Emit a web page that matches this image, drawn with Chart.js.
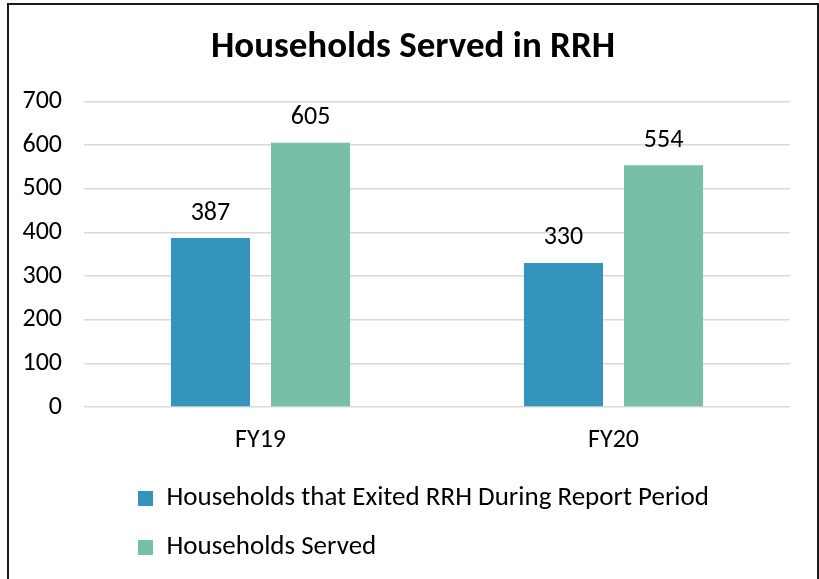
<!DOCTYPE html>
<html>
<head>
<meta charset="utf-8">
<title>Households Served in RRH</title>
<script src="https://cdn.jsdelivr.net/npm/chart.js@4.4.1/dist/chart.umd.min.js"></script>
<style>
    html, body { margin: 0; padding: 0; background: #fff; overflow: hidden; }
    #wrap { position: relative; width: 819px; height: 579px; }
    #chart { position: absolute; left: 0; top: 0; }
    #frame {
        position: absolute; left: 7px; top: 3px;
        width: 808px; height: 640px;
        border: 2px solid #1a1a1a;
        pointer-events: none;
    }
</style>
</head>
<body>
<div id="wrap">
    <canvas id="chart" width="819" height="579"></canvas>
    <div id="frame"></div>
</div>
<script>
// Data
const categories = ['FY19', 'FY20'];
const exitedValues = [387, 330];
const servedValues = [605, 554];
const seriesNames = ['Households that Exited RRH During Report Period', 'Households Served'];
const yTicks = [0, 100, 200, 300, 400, 500, 600, 700];

const FONT = 'Carlito, Lato, "Liberation Sans", sans-serif';

// value labels above each bar
const barLabels = {
    id: 'barLabels',
    afterDatasetsDraw(chart) {
        const ctx = chart.ctx;
        ctx.save();
        ctx.font = `26px ${FONT}`;
        ctx.fillStyle = '#000';
        ctx.textAlign = 'center';
        ctx.textBaseline = 'middle';
        chart.data.datasets.forEach((ds, i) => {
            chart.getDatasetMeta(i).data.forEach((bar, j) => {
                ctx.fillText(ds.data[j], bar.x, bar.y - 25);
            });
        });
        ctx.restore();
    }
};

// nudge title and stacked legend to where the original sits
const boxShift = {
    id: 'boxShift',
    afterLayout(chart) {
        const lg = chart.legend;
        lg.left += 116;
        lg.right += 116;
        lg.top += 3;
        lg.bottom += 3;
        const tb = chart.titleBlock;
        tb.left += 18;
        tb.right += 18;
    }
};

new Chart(document.getElementById('chart'), {
    type: 'bar',
    data: {
        labels: categories,
        datasets: [
            { label: seriesNames[0], data: exitedValues, backgroundColor: '#3594bc' },
            { label: seriesNames[1], data: servedValues, backgroundColor: '#77bfa7' }
        ]
    },
    options: {
        responsive: false,
        animation: false,
        layout: { padding: { left: 0, right: 29, top: 0, bottom: 11 } },
        datasets: {
            bar: { barPercentage: 0.79, categoryPercentage: 0.567 }
        },
        scales: {
            x: {
                grid: { display: false, drawTicks: false },
                border: { display: false },
                ticks: { color: '#000', font: { family: FONT, size: 26 }, padding: 18 },
                afterFit(scale) { scale.height = 53; }
            },
            y: {
                min: 0,
                max: 700,
                afterBuildTicks(scale) { scale.ticks = yTicks.map(v => ({ value: v })); },
                grid: { color: '#d9d9d9', lineWidth: 1.5, drawTicks: false },
                border: { display: false },
                ticks: { color: '#000', font: { family: FONT, size: 26 }, padding: 22 },
                afterFit(scale) { scale.width = 84; }
            }
        },
        plugins: {
            title: {
                display: true,
                text: 'Households Served in RRH',
                color: '#000',
                font: { family: FONT, size: 37, weight: 'bold' },
                padding: { top: 26, bottom: 31 }
            },
            legend: {
                position: 'bottom',
                align: 'start',
                maxWidth: 600,
                labels: {
                    color: '#000',
                    font: { family: FONT, size: 27 },
                    boxWidth: 15,
                    boxHeight: 15,
                    padding: 22
                }
            },
            tooltip: { enabled: false }
        }
    },
    plugins: [barLabels, boxShift]
});
</script>
</body>
</html>
